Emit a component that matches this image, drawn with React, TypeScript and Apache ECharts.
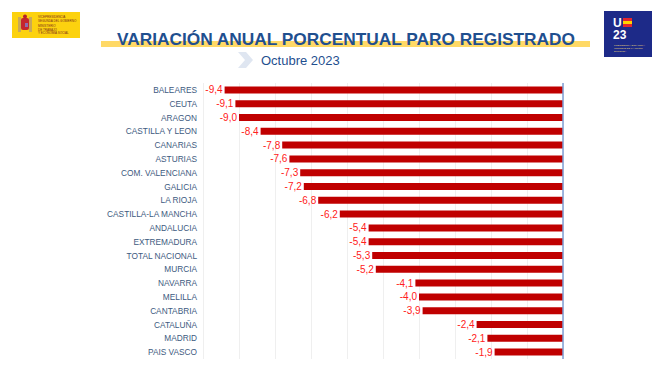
import React, { useEffect, useRef } from "react";
import * as echarts from "echarts";

const categories = [
  "BALEARES", "CEUTA", "ARAGON", "CASTILLA Y LEON", "CANARIAS", "ASTURIAS",
  "COM. VALENCIANA", "GALICIA", "LA RIOJA", "CASTILLA-LA MANCHA", "ANDALUCIA",
  "EXTREMADURA", "TOTAL NACIONAL", "MURCIA", "NAVARRA", "MELILLA", "CANTABRIA",
  "CATALUÑA", "MADRID", "PAIS VASCO",
];
const values = [
  -9.4, -9.1, -9.0, -8.4, -7.8, -7.6, -7.3, -7.2, -6.8, -6.2, -5.4,
  -5.4, -5.3, -5.2, -4.1, -4.0, -3.9, -2.4, -2.1, -1.9,
];
const title = "VARIACIÓN ANUAL PORCENTUAL PARO REGISTRADO";
const subtitle = "Octubre 2023";

export default function App() {
  const ref = useRef<HTMLDivElement>(null);
  useEffect(() => {
    if (!ref.current) return;
    const chart = echarts.init(ref.current, null, { renderer: "svg" });
    const font = "'Liberation Sans', Arial, sans-serif";
    chart.setOption({
      animation: false,
      backgroundColor: "#ffffff",
      grid: { left: 203, right: 107, top: 83, bottom: 17, containLabel: false },
      xAxis: {
        type: "value",
        min: -10,
        max: 0,
        interval: 1,
        axisLabel: { show: false },
        axisLine: { show: false },
        axisTick: { show: false },
        splitLine: { show: true, lineStyle: { color: "#efefef", width: 1 } },
      },
      yAxis: {
        type: "category",
        data: categories,
        inverse: true,
        axisLine: { show: false, onZero: false },
        axisTick: { show: false },
        axisLabel: {
          margin: 6,
          color: "#3d5a80",
          fontSize: 8.3,
          fontFamily: font,
        },
      },
      series: [
        {
          type: "bar",
          data: values,
          barWidth: 7,
          itemStyle: { color: "#c00000" },
          label: {
            show: true,
            position: "left",
            distance: 2,
            color: "#ff2020",
            fontSize: 10,
            fontFamily: font,
            formatter: (p: any) => p.value.toFixed(1).replace(".", ","),
          },
          markLine: {
            silent: true,
            symbol: "none",
            label: { show: false },
            lineStyle: { color: "#7f9fd6", width: 1.5, type: "solid" },
            data: [{ xAxis: 0 }],
          },
        },
      ],
      graphic: [
        // left logo
        { type: "rect", shape: { x: 12, y: 12, width: 68, height: 26 }, style: { fill: "#fcd20f" } },
        { type: "rect", shape: { x: 18, y: 17, width: 3, height: 15 }, style: { fill: "#c8a85a" } },
        { type: "rect", shape: { x: 29, y: 17, width: 3, height: 15 }, style: { fill: "#c8a85a" } },
        { type: "rect", shape: { x: 21, y: 18, width: 8, height: 12, r: 2 }, style: { fill: "#c4262e" } },
        { type: "circle", shape: { cx: 25, cy: 16.5, r: 2 }, style: { fill: "#b5232a" } },
        { type: "rect", shape: { x: 25, y: 23, width: 3, height: 4 }, style: { fill: "#8e6bb0" } },
        { type: "text", style: { x: 38, y: 15, text: "VICEPRESIDENCIA\nSEGUNDA DEL GOBIERNO", font: "3px " + font, fill: "#7a2a1a", lineHeight: 3.5, verticalAlign: "top" } },
        { type: "text", style: { x: 38, y: 24, text: "MINISTERIO\nDE TRABAJO\nY ECONOMÍA SOCIAL", font: "3px " + font, fill: "#7a2a1a", lineHeight: 3.5, verticalAlign: "top" } },
        // right logo
        { type: "rect", shape: { x: 604, y: 11, width: 48, height: 46 }, style: { fill: "#1d2a88" } },
        { type: "text", style: { x: 613, y: 17, text: "U", font: "bold 12px " + font, fill: "#ffffff", verticalAlign: "top", lineHeight: 11 } },
        { type: "rect", shape: { x: 623, y: 18, width: 9, height: 3 }, style: { fill: "#e3262e" } },
        { type: "rect", shape: { x: 623, y: 21, width: 9, height: 3 }, style: { fill: "#ffd400" } },
        { type: "rect", shape: { x: 623, y: 24, width: 9, height: 3 }, style: { fill: "#e3262e" } },
        { type: "text", style: { x: 613, y: 29, text: "23", font: "bold 12px " + font, fill: "#ffffff", verticalAlign: "top", lineHeight: 12 } },
        { type: "text", style: { x: 614, y: 44, text: "PRESIDENCIA ESPAÑOLA\nCONSEJO DE LA UNIÓN\nEUROPEA", font: "2.5px " + font, fill: "#e6d27a", lineHeight: 3, verticalAlign: "top" } },
        // title
        { type: "rect", shape: { x: 101, y: 41, width: 489, height: 6 }, style: { fill: "#ffd966" } },
        {
          type: "text",
          style: {
            x: 346, y: 39, text: title, align: "center", verticalAlign: "middle",
            font: "bold 17.3px " + font, fill: "#1f4f8f",
          },
        },
        {
          type: "polygon",
          shape: { points: [[238, 52], [246, 52], [253, 60], [246, 68], [238, 68], [245, 60]] },
          style: { fill: "#dfe6f1" },
        },
        {
          type: "text",
          style: {
            x: 261, y: 60, text: subtitle, verticalAlign: "middle",
            font: "13px " + font, fill: "#1f4f8f",
          },
        },
      ],
    });
    return () => chart.dispose();
  }, []);
  return <div ref={ref} style={{ width: 670, height: 376, position: "absolute", left: 0, top: 0 }} />;
}
